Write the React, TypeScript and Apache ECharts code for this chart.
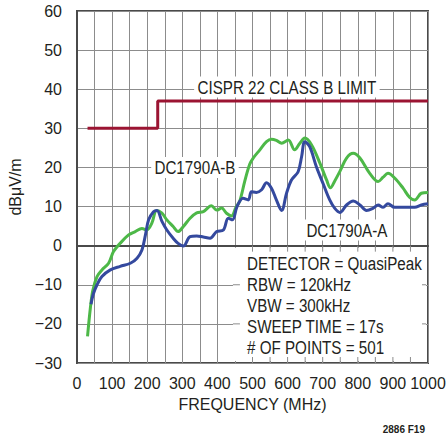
import React, { useEffect, useRef } from "react";
import * as echarts from "echarts";

const freqB = [30, 38, 45, 57, 71, 90, 104, 123, 147, 166, 185, 199, 213, 227, 242, 256, 274, 288, 303, 322, 341, 360, 383, 398, 412, 426, 440, 453, 464, 478, 492, 502, 521, 540, 554, 568, 583, 602, 620, 635, 649, 668, 692, 711, 722, 734, 749, 768, 787, 806, 834, 858, 872, 886, 905, 929, 948, 962, 981, 1000];
const valB = [-23.2, -16, -11.5, -7.9, -6.2, -4.5, -1.5, 0.6, 2.75, 3.6, 4.4, 4.0, 5.7, 9.0, 8.3, 6.6, 4.9, 3.6, 4.9, 7.0, 8.4, 8.7, 10.2, 9.1, 9.6, 8.3, 7.6, 9.8, 11.5, 16.5, 20.8, 22.4, 24.5, 26.6, 27.2, 26.9, 26.2, 27.0, 24.5, 26.2, 27.5, 25.8, 21.1, 16.8, 14.8, 16.5, 19.0, 22.4, 23.6, 22.4, 18.5, 16.4, 17.5, 18.5, 17.3, 14.7, 12.3, 11.7, 13.4, 13.6];

const freqA = [40, 46, 57, 71, 95, 123, 152, 171, 185, 195, 204, 218, 228, 242, 256, 274, 288, 303, 322, 341, 360, 379, 398, 417, 431, 443, 456, 473, 488, 497, 511, 526, 540, 554, 568, 583, 597, 611, 630, 640, 649, 663, 682, 701, 720, 734, 749, 768, 787, 806, 825, 844, 858, 872, 886, 905, 939, 962, 981, 1000];
const valA = [-15, -12.5, -10, -7.9, -6.2, -5.3, -4.5, -3.2, -1.1, 2.75, 6.6, 8.7, 9.0, 6.2, 4.0, 1.9, 0.6, -0.1, 2.3, 2.5, 2.2, 1.9, 3.6, 4.0, 7.0, 6.6, 10.0, 12.1, 11.7, 13.8, 13.6, 14.3, 16.1, 14.7, 11.7, 9.0, 13.4, 16.8, 18.9, 22.8, 26.6, 25.3, 20.2, 15.9, 11.7, 9.6, 8.5, 10.4, 11.4, 10.4, 9.0, 9.6, 10.4, 9.8, 10.7, 9.8, 9.8, 9.8, 10.4, 10.7];

const limitFreq = [30, 230, 230, 1000];
const limitVal = [30, 30, 37, 37];

const infoLines = [
  "DETECTOR = QuasiPeak",
  "RBW = 120kHz",
  "VBW = 300kHz",
  "SWEEP TIME = 17s",
  "# OF POINTS = 501",
];

const FONT = "'Liberation Sans', Arial, sans-serif";
const W = 447, H = 438;
const GL = 77, GR = 19, GT = 11, GB = 75;
const PW = W - GL - GR, PH = H - GT - GB;
const px = (f: number) => GL + (f / 1000) * PW;
const py = (v: number) => GT + ((60 - v) / 90) * PH;
const SX = 0.8;

export default function App() {
  const ref = useRef<HTMLDivElement>(null);
  useEffect(() => {
    if (!ref.current) return;
    const chart = echarts.init(ref.current, undefined, { renderer: "svg" });
    const gridColor = "#8c8c8c";
    const txt = "#231f20";

    const graphics: any[] = [];
    const bx0 = px(450) - 2, bx1 = px(1000) - 2, by0 = py(0) + 2, by1 = py(-30) - 2;
    graphics.push({ type: "rect", z: 20, shape: { x: bx0, y: by0, width: bx1 - bx0, height: by1 - by0 }, style: { fill: "#fff" } });
    const tickStyle = { stroke: gridColor, lineWidth: 1 };
    for (let f = 500; f <= 950; f += 50) {
      graphics.push({ type: "line", z: 21, shape: { x1: px(f), y1: py(0), x2: px(f), y2: py(0) + 6 }, style: tickStyle });
      graphics.push({ type: "line", z: 21, shape: { x1: px(f), y1: py(-30), x2: px(f), y2: py(-30) - 6 }, style: tickStyle });
    }
    for (const v of [-10, -20]) {
      graphics.push({ type: "line", z: 21, shape: { x1: bx0, y1: py(v), x2: px(450) + 5, y2: py(v) }, style: tickStyle });
      graphics.push({ type: "line", z: 21, shape: { x1: bx1, y1: py(v), x2: px(1000) - 6, y2: py(v) }, style: tickStyle });
    }
    infoLines.forEach((t, i) => {
      graphics.push({
        type: "text", z: 22, x: 247, y: 263 + i * 21, scaleX: SX,
        style: { text: t, font: `19px ${FONT}`, fill: txt, verticalAlign: "middle" },
      });
    });
    const label = (t: string, f: number, v: number) => ({
      type: "group", z: 22, x: px(f), y: py(v),
      children: [
        {
          type: "text", z: 22, scaleX: SX,
          style: {
            text: t, font: `19px ${FONT}`, fill: txt, align: "center", verticalAlign: "middle",
            backgroundColor: "#fff", padding: [1, 4, 1, 4],
          },
        },
      ],
    });
    graphics.push(label("CISPR 22 CLASS B LIMIT", 598, 40.6));
    graphics.push(label("DC1790A-B", 336, 20));
    graphics.push(label("DC1790A-A", 769, 4));
    graphics.push({
      type: "text", z: 22, x: 425, y: 429,
      style: { text: "2886 F19", font: `bold 10px ${FONT}`, fill: txt, align: "right", verticalAlign: "middle" },
    });

    chart.setOption({
      animation: false,
      grid: {
        left: GL, right: GR, top: GT, bottom: GB, show: true, outerBoundsMode: "none", containLabel: false,
        borderColor: "#4a4a4a", borderWidth: 2, backgroundColor: "transparent",
      },
      xAxis: {
        type: "value", min: 0, max: 1000, interval: 100,
        name: "FREQUENCY (MHz)", nameLocation: "middle", nameGap: 33,
        nameTextStyle: { fontFamily: FONT, fontSize: 16, color: txt },
        axisLine: { show: true, lineStyle: { color: "#4a4a4a", width: 2 } },
        axisTick: { show: false },
        axisLabel: { fontFamily: FONT, fontSize: 16, color: txt, margin: 12, hideOverlap: false, formatter: (v: number) => String(v) },
        splitLine: { show: true, lineStyle: { color: gridColor, width: 1 } },
        minorTick: { show: false, splitNumber: 2 },
        minorSplitLine: { show: true, lineStyle: { color: gridColor, width: 1 } },
      },
      yAxis: {
        type: "value", min: -30, max: 60, interval: 10,
        name: "dBμV/m", nameLocation: "middle", nameGap: 47,
        nameTextStyle: { fontFamily: FONT, fontSize: 16, color: txt },
        axisLine: { show: true, lineStyle: { color: "#4a4a4a", width: 2 } },
        axisTick: { show: false },
        axisLabel: {
          fontFamily: FONT, fontSize: 16, color: txt, margin: 15,
          formatter: (v: number) => (v < 0 ? "\u2212" + Math.abs(v) : String(v)),
        },
        splitLine: { show: true, lineStyle: { color: gridColor, width: 1 } },
      },
      series: [
        {
          type: "line", name: "CISPR", data: limitFreq.map((f, i) => [f, limitVal[i]]),
          showSymbol: false, lineStyle: { color: "#9b1432", width: 3 }, z: 3,
        },
        {
          type: "line", name: "DC1790A-B", data: freqB.map((f, i) => [f, valB[i]]),
          showSymbol: false, smooth: 0.35, lineStyle: { color: "#4db848", width: 3 }, z: 4,
        },
        {
          type: "line", name: "DC1790A-A", data: freqA.map((f, i) => [f, valA[i]]),
          showSymbol: false, smooth: 0.35, lineStyle: { color: "#34499e", width: 3 }, z: 5,
        },
      ],
      graphic: graphics,
    });
    return () => chart.dispose();
  }, []);
  return <div ref={ref} style={{ width: W, height: H, position: "absolute", left: 0, top: 0 }} />;
}
